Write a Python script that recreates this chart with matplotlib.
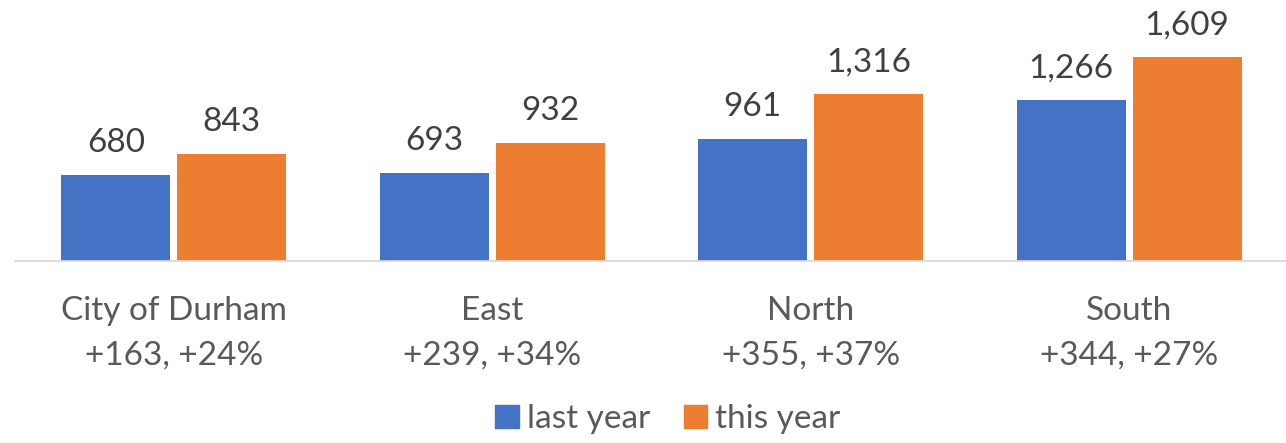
import matplotlib.pyplot as plt
from matplotlib.patches import Patch

categories = ['City of Durham', 'East', 'North', 'South']
changes = ['+163, +24%', '+239, +34%', '+355, +37%', '+344, +27%']
last_year = [680, 693, 961, 1266]
this_year = [843, 932, 1316, 1609]

blue = '#4472C4'
orange = '#ED7D31'
plt.rcParams['font.family'] = ['Lato', 'DejaVu Sans']

fig = plt.figure(figsize=(12.86, 4.43), dpi=100)
# baseline at y=261px, axis spans x 14.5 -> 1288.5
ax = fig.add_axes([14.5 / 1286, (443 - 261) / 443, 1274 / 1286, 253.6 / 443])

w = 0.342
off = 0.182
x = list(range(len(categories)))
b1 = ax.bar([i - off for i in x], last_year, w, color=blue)
b2 = ax.bar([i + off for i in x], this_year, w, color=orange)

for bars, vals in [(b1, last_year), (b2, this_year)]:
    for b, v in zip(bars, vals):
        ax.annotate(f'{v:,}', (b.get_x() + b.get_width() / 2, v),
                    xytext=(0, 16.5), textcoords='offset points',
                    ha='center', va='baseline', fontsize=24, color='#404040')

ax.set_xlim(-0.5, 3.5)
ax.set_ylim(0, 2000)
ax.set_xticks(x)
ax.set_xticklabels([c + '\n' + d for c, d in zip(categories, changes)],
                   fontsize=24, color='#595959', linespacing=1.6)
ax.tick_params(axis='x', length=0, pad=25)
ax.set_yticks([])
for s in ['top', 'left', 'right']:
    ax.spines[s].set_visible(False)
ax.spines['bottom'].set_color('#D9D9D9')
ax.spines['bottom'].set_linewidth(1.3)

handles = [Patch(color=blue, label='last year'), Patch(color=orange, label='this year')]
leg = fig.legend(handles=handles, loc='center', bbox_to_anchor=(668 / 1286, 1 - 419 / 443),
                 ncol=2, frameon=False, fontsize=24, handlelength=0.7, handleheight=0.7,
                 handletextpad=0.25, columnspacing=1.0)
for t in leg.get_texts():
    t.set_color('#595959')

fig.savefig('out.png', dpi=100)
